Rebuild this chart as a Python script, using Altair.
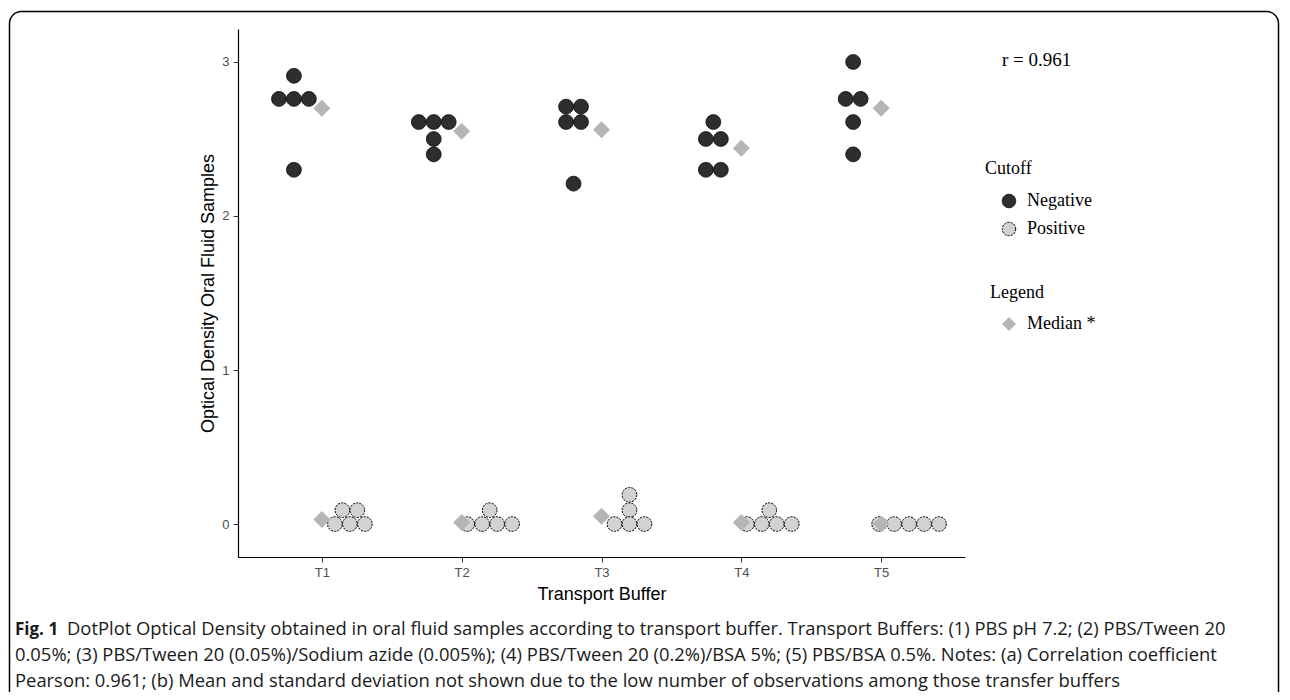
import altair as alt
import pandas as pd

# ---------------- data ----------------
buffers = ["T1", "T2", "T3", "T4", "T5"]
cutoffs = ["Negative", "Positive"]

negative_T1 = [2.91, 2.76, 2.76, 2.76, 2.30]
negative_T2 = [2.61, 2.61, 2.61, 2.50, 2.40]
negative_T3 = [2.71, 2.71, 2.61, 2.61, 2.21]
negative_T4 = [2.61, 2.50, 2.50, 2.30, 2.30]
negative_T5 = [3.00, 2.76, 2.76, 2.61, 2.40]

positive_T1 = [0.09, 0.09, 0.00, 0.00, 0.00]
positive_T2 = [0.09, 0.00, 0.00, 0.00, 0.00]
positive_T3 = [0.19, 0.09, 0.00, 0.00, 0.00]
positive_T4 = [0.09, 0.00, 0.00, 0.00, 0.00]
positive_T5 = [0.00, 0.00, 0.00, 0.00, 0.00]

median_negative = [2.70, 2.55, 2.56, 2.44, 2.70]
median_positive = [0.03, 0.01, 0.05, 0.01, 0.00]

y_ticks = [0, 1, 2, 3]
median_label = "Median *"
r_label = "r = 0.961"
caption_bold = "Fig. 1"
caption_line1 = ("DotPlot Optical Density obtained in oral fluid samples according to transport buffer. "
                 "Transport Buffers: (1) PBS pH 7.2; (2) PBS/Tween 20")
caption_line2 = ("0.05%; (3) PBS/Tween 20 (0.05%)/Sodium azide (0.005%); (4) PBS/Tween 20 (0.2%)/BSA 5%; "
                 "(5) PBS/BSA 0.5%. Notes: (a) Correlation coefficient")
caption_line3 = ("Pearson: 0.961; (b) Mean and standard deviation not shown due to the low number of "
                 "observations among those transfer buffers")

negatives = [negative_T1, negative_T2, negative_T3, negative_T4, negative_T5]
positives = [positive_T1, positive_T2, positive_T3, positive_T4, positive_T5]

# ---------------- dot-plot layout (dodge + centred stacking) ----------------
DODGE = 0.2      # x-units each cutoff group is moved from the buffer centre
STEP = 0.107     # x-units between stacked dots

rows = []
for i, b in enumerate(buffers):
    for cutoff, series, sign in (("Negative", negatives[i], -1), ("Positive", positives[i], 1)):
        counts = {}
        for v in series:
            counts[v] = counts.get(v, 0) + 1
        for v, n in counts.items():
            for k in range(n):
                rows.append({"buffer": b, "cutoff": cutoff, "od": v,
                             "pos": i + 1 + sign * DODGE + (k - (n - 1) / 2) * STEP})
dots = pd.DataFrame(rows)

med_rows = []
for i, b in enumerate(buffers):
    med_rows.append({"buffer": b, "od": median_negative[i], "pos": i + 1, "stat": median_label})
    med_rows.append({"buffer": b, "od": median_positive[i], "pos": i + 1, "stat": median_label})
meds = pd.DataFrame(med_rows)

# ---------------- layout constants ----------------
W, H = 727, 528
PAD_L, PAD_T = 230, 21
TOTAL_W, TOTAL_H = 1272, 684

x_scale = alt.Scale(domain=[0.4, 5.6], nice=False, zero=False)
y_scale = alt.Scale(domain=[-0.214, 3.214], nice=False, zero=False)

x_axis = alt.Axis(title="Transport Buffer", values=[1, 2, 3, 4, 5],
                  labelExpr="'T' + datum.value", labelPadding=4, titlePadding=6)
y_axis = alt.Axis(title="Optical Density Oral Fluid Samples", values=y_ticks, format="d",
                  labelPadding=4, titlePadding=4)

dot_layer = alt.Chart(dots).mark_point(
    filled=True, shape="circle", size=215, stroke="black", strokeWidth=1, opacity=1
).encode(
    x=alt.X("pos:Q", scale=x_scale, axis=x_axis),
    y=alt.Y("od:Q", scale=y_scale, axis=y_axis),
    fill=alt.Fill("cutoff:N",
                  scale=alt.Scale(domain=cutoffs, range=["#2e2e2e", "#d2d2d2"]),
                  legend=alt.Legend(title="Cutoff", orient="none", legendX=747, legendY=131,
                                    symbolType="circle", symbolSize=180, symbolOffset=15,
                                    symbolStrokeColor="black", symbolStrokeWidth=1,
                                    labelOffset=9, rowPadding=10, titlePadding=14, padding=0)),
    strokeDash=alt.StrokeDash("cutoff:N",
                              scale=alt.Scale(domain=cutoffs, range=[[1, 0], [2.2, 1.1]]),
                              legend=None),
)

med_layer = alt.Chart(meds).mark_point(
    filled=True, size=289, color="#b5b5b5", opacity=1
).encode(
    x=alt.X("pos:Q", scale=x_scale),
    y=alt.Y("od:Q", scale=y_scale),
    shape=alt.Shape("stat:N",
                    scale=alt.Scale(domain=[median_label], range=["diamond"]),
                    legend=alt.Legend(title="Legend", orient="none", legendX=752, legendY=255,
                                      symbolSize=200, symbolOffset=10, symbolFillColor="#b5b5b5",
                                      symbolStrokeWidth=0,
                                      labelOffset=9, titlePadding=13, padding=0)),
)

one = pd.DataFrame({"t": [""]})

frame = alt.Chart(one).mark_rect(
    cornerRadius=12, fillOpacity=0, stroke="black", strokeWidth=1.5
).encode(
    x=alt.value(-228.5), x2=alt.value(TOTAL_W - PAD_L - 1.5),
    y=alt.value(-17.5), y2=alt.value(720),
)

r_text = alt.Chart(pd.DataFrame({"t": [r_label]})).mark_text(
    align="left", baseline="alphabetic", font="Liberation Serif", fontSize=19, color="black"
).encode(text="t:N", x=alt.value(764), y=alt.value(37))

cap_style = dict(align="left", baseline="alphabetic", font="Open Sans", color="#1a1a1a")

cap_bold = alt.Chart(pd.DataFrame({"t": [caption_bold]})).mark_text(
    fontWeight="bold", fontSize=17, **cap_style
).encode(text="t:N", x=alt.value(15 - 238), y=alt.value(635 - 29))

cap_1 = alt.Chart(pd.DataFrame({"t": [caption_line1]})).mark_text(fontSize=18.4, **cap_style).encode(
    text="t:N", x=alt.value(67 - 238), y=alt.value(635 - 29))
cap_2 = alt.Chart(pd.DataFrame({"t": [caption_line2]})).mark_text(fontSize=18.4, **cap_style).encode(
    text="t:N", x=alt.value(15 - 238), y=alt.value(661 - 29))
cap_3 = alt.Chart(pd.DataFrame({"t": [caption_line3]})).mark_text(fontSize=18.4, **cap_style).encode(
    text="t:N", x=alt.value(15 - 238), y=alt.value(687 - 29))

chart = alt.layer(
    frame, dot_layer, med_layer, r_text, cap_bold, cap_1, cap_2, cap_3
).properties(
    width=W, height=H,
    padding={"left": PAD_L, "top": PAD_T, "right": TOTAL_W - PAD_L - W, "bottom": TOTAL_H - PAD_T - H},
    autosize=alt.AutoSizeParams(type="none"),
    background="white",
).configure_view(
    strokeWidth=0
).configure_axis(
    labelFont="Liberation Sans", labelFontSize=13, labelColor="#4d4d4d",
    titleFont="Liberation Sans", titleFontSize=18, titleColor="black", titleFontWeight="normal",
    domainColor="black", domainWidth=1.2, tickColor="#333333", tickSize=5, tickWidth=1,
    grid=False,
).configure_legend(
    titleFont="Liberation Serif", titleFontSize=18, titleFontWeight="normal", titleColor="black",
    labelFont="Liberation Serif", labelFontSize=18, labelColor="black",
)

chart.save("out.html", embed_options={"renderer": "svg", "actions": False})
